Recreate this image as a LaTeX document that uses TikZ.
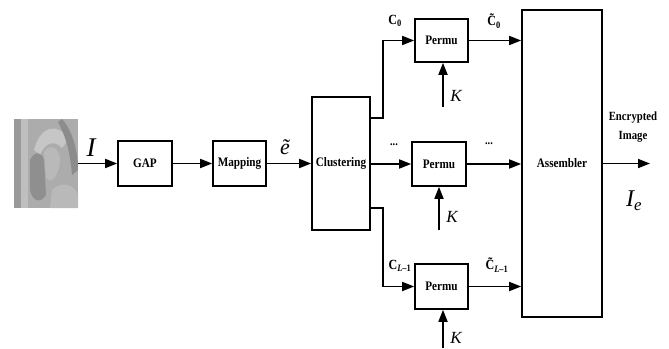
\documentclass[tikz,border=0pt]{standalone}
\usepackage{fontspec}
\setmainfont{Liberation Serif}
\usetikzlibrary{arrows.meta,calc}
\newcommand{\sqz}[1]{\scalebox{0.86}[1]{#1}}
\begin{document}
\begin{tikzpicture}[x=1pt,y=-1pt,
  blk/.style={draw,line width=1.6pt,inner sep=0pt,font=\fontsize{13}{15}\selectfont\bfseries},
  arr/.style={line width=1.7pt,-{Triangle[length=12pt,width=9pt]}},
  lbl/.style={inner sep=0pt,font=\fontsize{14}{16}\selectfont\bfseries},
  ital/.style={inner sep=0pt,font=\itshape}]
\useasboundingbox (0,0) rectangle (669,348);
% photo
\node[fill=gray!65,minimum width=64pt,minimum height=89pt,inner sep=0pt] (photo) at (46,163.5) {};
\fill[gray!80] (14,119) rectangle (21,208);
\fill[gray!50] (21,119) rectangle (28,208);
\fill[gray!45] (34,150) .. controls (40,125) and (60,122) .. (68,140) -- (62,148) .. controls (55,140) and (45,142) .. (40,155) -- cycle;
\fill[gray!90] (62,119) .. controls (72,130) and (78,150) .. (78,170) -- (72,175) .. controls (70,150) and (65,135) .. (58,122) -- cycle;
\fill[gray!55] (44,152) .. controls (48,145) and (58,145) .. (60,158) .. controls (60,175) and (52,185) .. (46,178) -- cycle;
\fill[gray!88] (30,160) .. controls (35,150) and (42,152) .. (44,160) -- (46,195) .. controls (40,205) and (32,200) .. (30,190) -- cycle;
\fill[gray!55] (52,190) .. controls (62,180) and (75,185) .. (78,195) -- (78,208) -- (50,208) -- cycle;
% boxes
\node[blk,minimum width=54pt,minimum height=45pt] (gap) at (145,163.5) {\sqz{GAP}};
\node[blk,minimum width=53pt,minimum height=45pt] (map) at (239.5,163.5) {\sqz{Mapping}};
\node[blk,minimum width=58pt,minimum height=133pt] (clus) at (341,163.5) {\sqz{Clustering}};
\node[blk,minimum width=53pt,minimum height=43pt] (p0) at (441.5,40.5) {\sqz{Permu}};
\node[blk,minimum width=54pt,minimum height=44pt] (p1) at (439,164) {\sqz{Permu}};
\node[blk,minimum width=53pt,minimum height=45pt] (p2) at (441.5,286.5) {\sqz{Permu}};
\node[blk,minimum width=80pt,minimum height=307pt] (asm) at (562,163.5) {\sqz{Assembler}};
% coordinates
\coordinate (b0) at (383,118);
\coordinate (b2) at (383,208);
\coordinate (k0) at (443,107);
\coordinate (k1) at (439,230);
\coordinate (k2) at (443,348);
\coordinate (out) at (650,163.5);
% connectors
\draw[arr] (photo.east) -- (gap.west);
\draw[arr] (gap) -- (map);
\draw[arr] (map) -- (clus);
\draw[arr] (clus.east |- b0) -- (b0) |- (p0.west);
\draw[arr] (clus.east |- p1.west) -- (p1.west);
\draw[arr] (clus.east |- b2) -- (b2) |- (p2.west);
\draw[arr] (p0.east) -- (asm.west |- p0.east);
\draw[arr] (p1.east) -- (asm.west |- p1.east);
\draw[arr] (p2.east) -- (asm.west |- p2.east);
\draw[arr] (k0) -- (k0 |- p0.south);
\draw[arr] (k1) -- (k1 |- p1.south);
\draw[arr] (k2) -- (k2 |- p2.south);
\draw[arr] (asm.east |- out) -- (out);
% labels
\node[ital,font=\fontsize{27}{27}\selectfont\itshape] (lI) at (91,148) {I};
\node[ital,font=\fontsize{22}{22}\selectfont\itshape] (le) at (285,147) {\~{e}};
\node[lbl] (lc0) at (395,21) {\sqz{C\textsubscript{0}}};
\node[lbl] (lct0) at (494,21) {\sqz{\~{C}\textsubscript{0}}};
\node[lbl,font=\fontsize{12}{14}\selectfont\bfseries] (ld1) at (394,145) {\sqz{...}};
\node[lbl,font=\fontsize{12}{14}\selectfont\bfseries] (ld2) at (489,144) {\sqz{...}};
\node[lbl] (lc2) at (400,266) {\sqz{C\textsubscript{\textit{L}--1}}};
\node[lbl] (lct2) at (497,265) {\sqz{\~{C}\textsubscript{\textit{L}--1}}};
\node[ital,font=\fontsize{17}{17}\selectfont\itshape] (kk0) at (456,96) {K};
\node[ital,font=\fontsize{17}{17}\selectfont\itshape] (kk1) at (452,217) {K};
\node[ital,font=\fontsize{17}{17}\selectfont\itshape] (kk2) at (456,338) {K};
\node[lbl,align=center,font=\fontsize{12.5}{19}\selectfont\bfseries] (enc) at (633,127) {\sqz{Encrypted}\\\sqz{Image}};
\node[ital,font=\fontsize{24}{24}\selectfont\itshape] (ie) at (634,201) {I\textsubscript{e}};
\end{tikzpicture}
\end{document}
